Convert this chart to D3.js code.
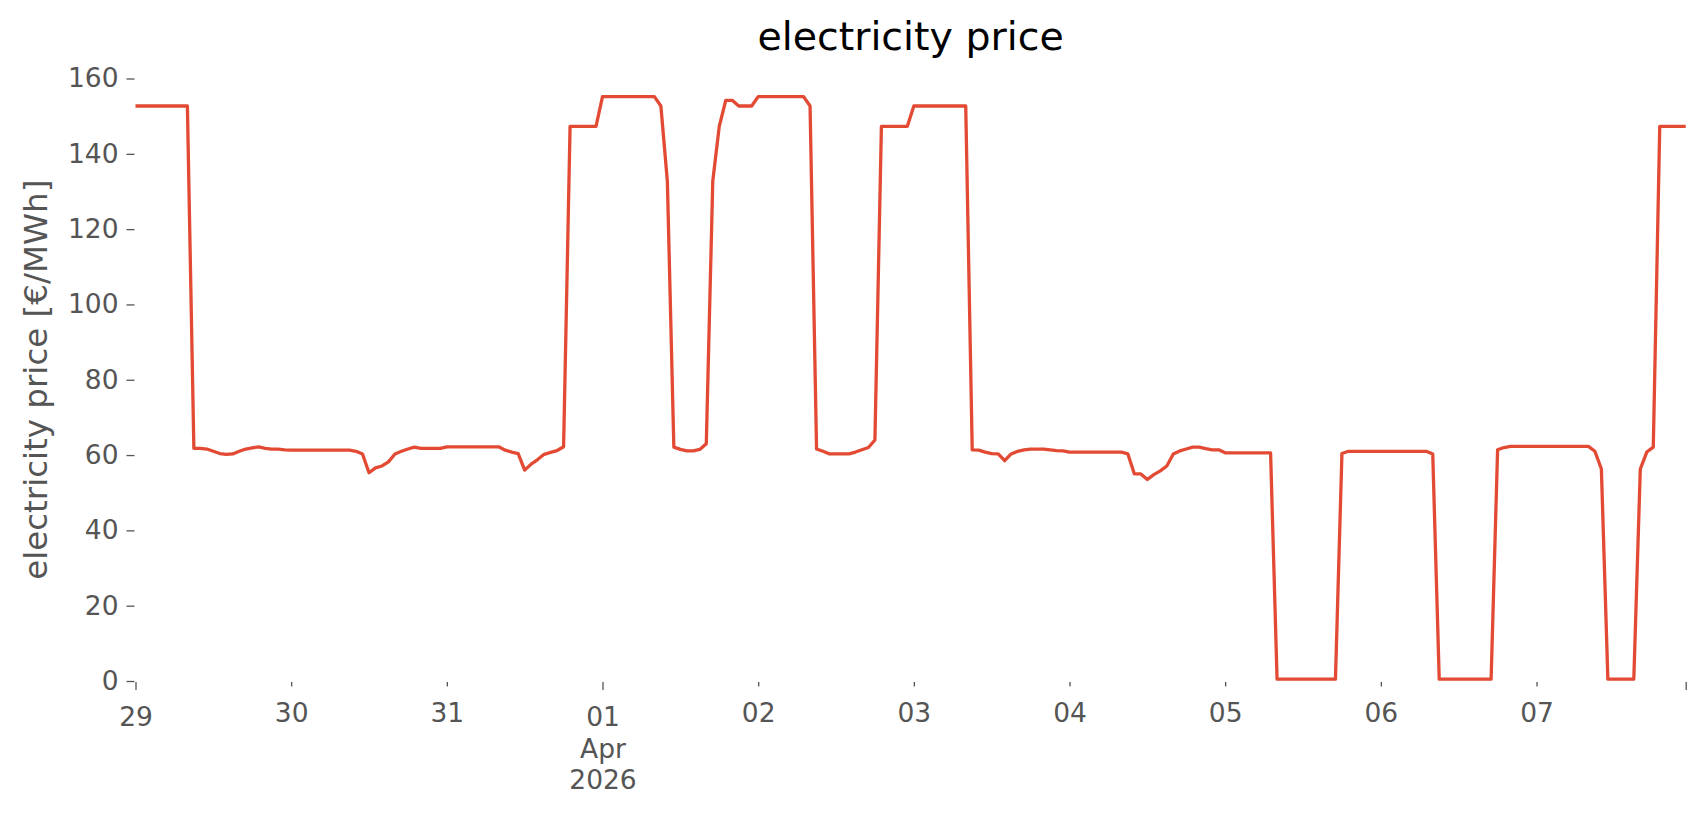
<!DOCTYPE html>
<html>
<head>
<meta charset="utf-8">
<script src="https://cdn.jsdelivr.net/npm/d3@7"></script>
<style>
  html, body { margin: 0; padding: 0; background: #ffffff; }
  svg { display: block; }
  text { font-family: "DejaVu Sans", sans-serif; }
</style>
</head>
<body>
<svg id="chart" width="1706" height="815"></svg>
<script>
// ---- data: hourly electricity price [€/MWh], one array per day ----
const startDay = "2026-03-29T00:00:00Z";
const mar29 = [152.7,152.7,152.7,152.7,152.7,152.7,152.7,152.7,152.7,61.8,61.8,61.6,61.0,60.4,60.2,60.3,61.0,61.6,61.9,62.2,61.8,61.6,61.6,61.4];
const mar30 = [61.3,61.3,61.3,61.3,61.3,61.3,61.3,61.3,61.3,61.3,61.0,60.3,55.3,56.6,57.1,58.2,60.3,61.0,61.6,62.1,61.8,61.8,61.8,61.8];
const mar31 = [62.2,62.2,62.2,62.2,62.2,62.2,62.2,62.2,62.2,61.3,60.8,60.4,56.0,57.6,58.8,60.2,60.7,61.2,62.2,147.3,147.3,147.3,147.3,147.3];
const apr01 = [155.2,155.2,155.2,155.2,155.2,155.2,155.2,155.2,155.2,152.7,132.7,62.1,61.5,61.1,61.1,61.5,63.0,132.7,147.3,154.2,154.2,152.7,152.7,152.7];
const apr02 = [155.2,155.2,155.2,155.2,155.2,155.2,155.2,155.2,152.7,61.6,61.0,60.3,60.3,60.3,60.3,60.8,61.4,62.0,64.0,147.3,147.3,147.3,147.3,147.3];
const apr03 = [152.7,152.7,152.7,152.7,152.7,152.7,152.7,152.7,152.7,61.4,61.3,60.8,60.4,60.3,58.5,60.3,61.0,61.4,61.6,61.6,61.6,61.4,61.2,61.1];
const apr04 = [60.8,60.8,60.8,60.8,60.8,60.8,60.8,60.8,60.8,60.3,55.0,55.0,53.5,54.8,55.8,57.1,60.3,61.1,61.6,62.1,62.1,61.7,61.4,61.4];
const apr05 = [60.6,60.6,60.6,60.6,60.6,60.6,60.6,60.6,0.5,0.5,0.5,0.5,0.5,0.5,0.5,0.5,0.5,0.5,60.4,61.0,61.0,61.0,61.0,61.0];
const apr06 = [61.0,61.0,61.0,61.0,61.0,61.0,61.0,61.0,60.3,0.5,0.5,0.5,0.5,0.5,0.5,0.5,0.5,0.5,61.4,62.0,62.3,62.3,62.3,62.3];
const apr07 = [62.3,62.3,62.3,62.3,62.3,62.3,62.3,62.3,62.3,61.0,56.3,0.5,0.5,0.5,0.5,0.5,56.3,60.8,62.1,147.3,147.3,147.3,147.3,147.3];

const yTicks = [0, 20, 40, 60, 80, 100, 120, 140, 160];
const xTickLabels = ["29", "30", "31", "01", "02", "03", "04", "05", "06", "07"];
const xMajorLabels = {"01": ["Apr", "2026"]};
const titleText = "electricity price";
const yLabelText = "electricity price [€/MWh]";

// ---- build series ----
const days = [mar29, mar30, mar31, apr01, apr02, apr03, apr04, apr05, apr06, apr07];
const t0 = new Date(startDay).getTime();
const HOUR = 3600 * 1000;
const series = [];
days.forEach((arr, d) => arr.forEach((v, h) => series.push({ t: new Date(t0 + (d * 24 + h) * HOUR), v })));

// ---- layout ----
const plotL = 135.5, plotR = 1685.7, plotT = 78.5, plotB = 681;
const svg = d3.select("#chart");

const x = d3.scaleUtc().domain([series[0].t, series[series.length - 1].t]).range([plotL, plotR]);
const y = d3.scaleLinear().domain([0, 160]).range([plotB, plotT]);

const grey = "#555555";
const tickFont = "26.5px";

// y axis
const yAxis = d3.axisLeft(y).tickValues(yTicks).tickSize(8).tickPadding(8).tickFormat(d3.format("d"));
const gy = svg.append("g").attr("transform", `translate(${plotL - 1},0)`).call(yAxis);
gy.select(".domain").remove();
gy.selectAll(".tick line").attr("stroke", grey).attr("stroke-width", 1.3);
gy.selectAll(".tick text").attr("fill", grey).style("font-size", tickFont).style("font-family", "DejaVu Sans");

// x axis
const dayTicks = xTickLabels.map((_, i) => new Date(t0 + i * 24 * HOUR));
const nLab = xTickLabels.length;
const isMajor = i => (i === 0 || i === 3 || i === nLab);
const xAxis = d3.axisBottom(x).tickValues(dayTicks.concat([series[series.length - 1].t]))
  .tickSize(5).tickPadding(8)
  .tickFormat((d, i) => i < nLab ? xTickLabels[i] : "");
const gx = svg.append("g").attr("transform", `translate(0,${plotB + 1})`).call(xAxis);
gx.select(".domain").remove();
gx.selectAll(".tick line").attr("stroke", grey).attr("stroke-width", 1.3)
  .attr("y2", (d, i) => isMajor(i) ? 8 : 4.5);
gx.selectAll(".tick text").attr("fill", grey).style("font-size", tickFont).style("font-family", "DejaVu Sans")
  .attr("dy", null)
  .attr("y", (d, i) => isMajor(i) ? 44 : 40)
  .each(function (d, i) {
    const lab = xTickLabels[i];
    if (lab && xMajorLabels[lab]) {
      const t = d3.select(this);
      xMajorLabels[lab].forEach((s, k) => {
        t.append("tspan").attr("x", 0).attr("y", 44 + (k + 1) * 31.5).text(s);
      });
    }
  });

// line
const line = d3.line().x(d => x(d.t)).y(d => y(d.v));
svg.append("path").datum(series)
  .attr("fill", "none").attr("stroke", "#E24A33").attr("stroke-width", 3.3)
  .attr("stroke-linejoin", "round").attr("d", line);

// title
svg.append("text").attr("x", (plotL + plotR) / 2).attr("y", 50)
  .attr("text-anchor", "middle").style("font-size", "39.5px").attr("fill", "#000")
  .text(titleText);

// y label
svg.append("text").attr("transform", `translate(36,${(plotT + plotB) / 2}) rotate(-90)`)
  .attr("text-anchor", "middle").attr("dominant-baseline", "central")
  .style("font-size", "32.5px").attr("fill", grey)
  .text(yLabelText);
</script>
</body>
</html>
